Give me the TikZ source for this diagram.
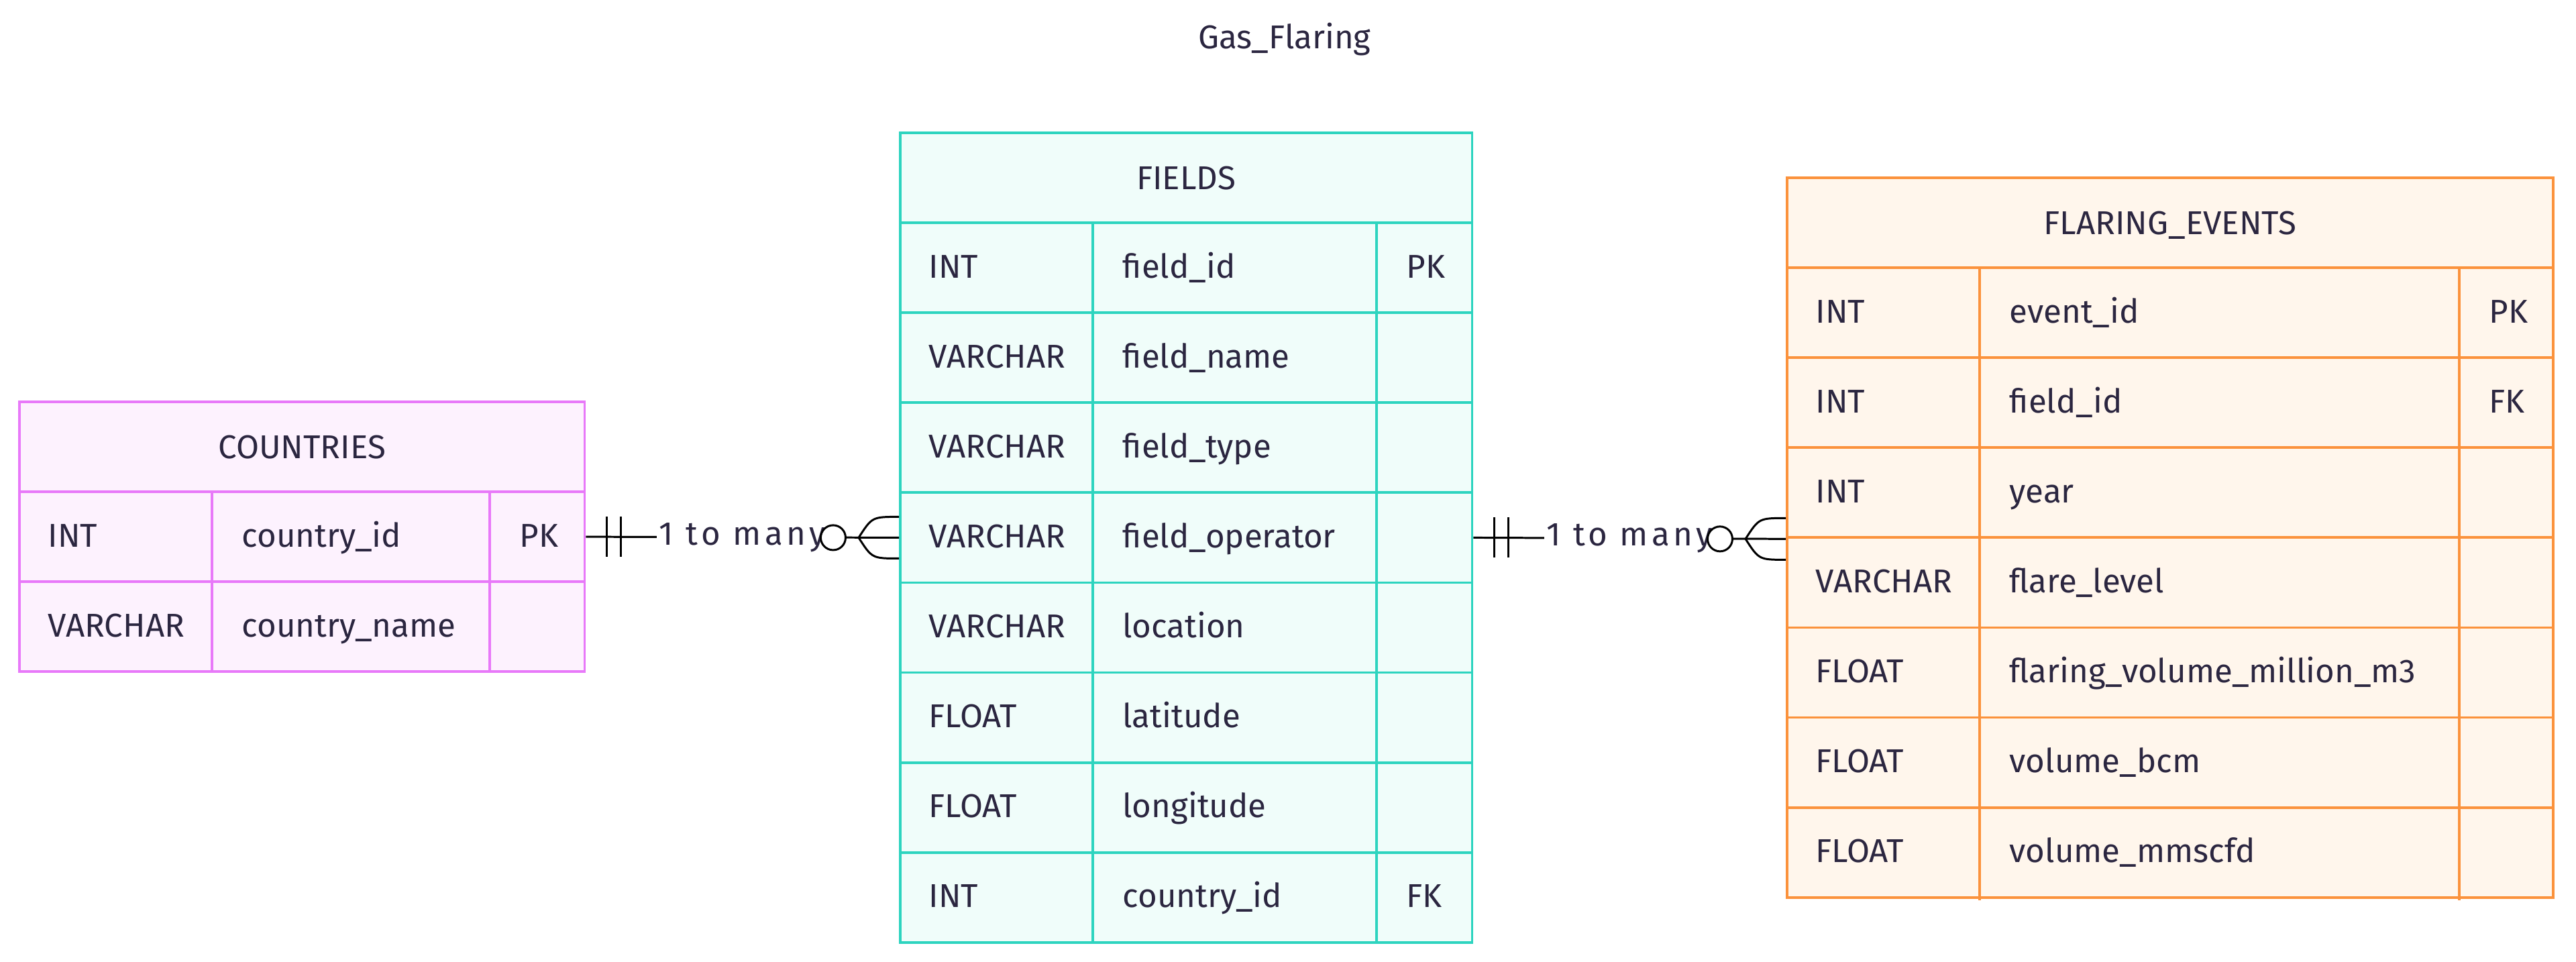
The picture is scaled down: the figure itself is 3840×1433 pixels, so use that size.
\documentclass[tikz,border=0pt]{standalone}
\usepackage{fontspec}
\setmainfont{Fira Sans}
\definecolor{ink}{HTML}{2B2640}
\definecolor{pinkline}{HTML}{E879F9}
\definecolor{pinkfill}{HTML}{FDF2FE}
\definecolor{tealline}{HTML}{2DD4BF}
\definecolor{tealfill}{HTML}{F0FDFA}
\definecolor{orangeline}{HTML}{FB923C}
\definecolor{orangefill}{HTML}{FFF6EC}
\begin{document}
\begin{tikzpicture}[x=0.01cm,y=-0.01cm,font=\fontsize{14}{17}\selectfont,text=ink,
  row/.style={draw=#1,line width=1.1pt,minimum height=1.341cm,inner sep=0pt,anchor=north west},
  cell/.style={anchor=base west,inner sep=0pt},
  head/.style={anchor=base,inner sep=0pt},
  rel/.style={draw=black,line width=0.85pt},
  card/.style={fill=white,inner sep=1pt,font=\fontsize{14}{17}\selectfont\addfontfeature{LetterSpace=11}}]
\fill[white](0,0) rectangle (3840,1433);
\useasboundingbox (0,0) rectangle (3840,1433);
\node[head] (title) at (1915,72) {Gas\_Flaring};
% COUNTRIES
\node[row=pinkline,fill=pinkfill,minimum width=8.42cm] (co-0) at (27,597) {};
\node[head] at ([yshift=-0.17cm]co-0.center) {COUNTRIES};
\foreach \t/\n/\k [count=\i] in {INT/country\_id/PK,VARCHAR/country\_name/{}}{
  \node[row=pinkline,fill=pinkfill,minimum width=8.42cm] (co-\i) at (27,{597+134.1*\i}) {};
  \node[cell] at (71,{597+134.1*\i+84}) {\t};
  \node[cell] at (360,{597+134.1*\i+84}) {\n};
  \node[cell] at (774,{597+134.1*\i+84}) {\k};
}
\draw[pinkline,line width=1.1pt] (316,731.1)--(316,999.3) (730,731.1)--(730,999.3);
% FIELDS
\node[row=tealline,fill=tealfill,minimum width=8.52cm] (fd-0) at (1340,196) {};
\node[head] at ([yshift=-0.17cm]fd-0.center) {FIELDS};
\foreach \t/\n/\k [count=\i] in {INT/field\_id/PK,VARCHAR/field\_name/{},VARCHAR/field\_type/{},
  VARCHAR/field\_operator/{},VARCHAR/location/{},FLOAT/latitude/{},FLOAT/longitude/{},INT/country\_id/FK}{
  \node[row=tealline,fill=tealfill,minimum width=8.52cm] (fd-\i) at (1340,{196+134.1*\i}) {};
  \node[cell] at (1384,{196+134.1*\i+84}) {\t};
  \node[cell] at (1673,{196+134.1*\i+84}) {\n};
  \node[cell] at (2096,{196+134.1*\i+84}) {\k};
}
\draw[tealline,line width=1.1pt] (1629,330.1)--(1629,1402.9) (2052,330.1)--(2052,1402.9);
% FLARING_EVENTS
\node[row=orangeline,fill=orangefill,minimum width=11.41cm] (ev-0) at (2662,263) {};
\node[head] at ([yshift=-0.17cm]ev-0.center) {FLARING\_EVENTS};
\foreach \t/\n/\k [count=\i] in {INT/event\_id/PK,INT/field\_id/FK,INT/year/{},VARCHAR/flare\_level/{},
  FLOAT/flaring\_volume\_million\_m3/{},FLOAT/volume\_bcm/{},FLOAT/volume\_mmscfd/{}}{
  \node[row=orangeline,fill=orangefill,minimum width=11.41cm] (ev-\i) at (2662,{263+134.1*\i}) {};
  \node[cell] at (2706,{263+134.1*\i+84}) {\t};
  \node[cell] at (2995,{263+134.1*\i+84}) {\n};
  \node[cell] at (3710,{263+134.1*\i+84}) {\k};
}
\draw[orangeline,line width=1.1pt] (2951,397.1)--(2951,1341.7) (3666,397.1)--(3666,1341.7);
% relations
\draw[rel] (co-1.east) -- node[card]{1 to many} (fd-4.west);
\draw[rel] ([xshift=0.31cm,yshift=0.3cm]co-1.east) -- ([xshift=0.31cm,yshift=-0.3cm]co-1.east);
\draw[rel] ([xshift=0.52cm,yshift=0.3cm]co-1.east) -- ([xshift=0.52cm,yshift=-0.3cm]co-1.east);
\draw[rel,fill=white] ([xshift=-0.98cm]fd-4.west) circle[radius=0.185cm];
\draw[rel] ([xshift=-0.6cm]fd-4.west) .. controls ([xshift=-0.4cm,yshift=0.31cm]fd-4.west) .. ([yshift=0.31cm]fd-4.west);
\draw[rel] ([xshift=-0.6cm]fd-4.west) .. controls ([xshift=-0.4cm,yshift=-0.31cm]fd-4.west) .. ([yshift=-0.31cm]fd-4.west);
\draw[rel] (fd-4.east) -- node[card]{1 to many} (ev-3.south west);
\draw[rel] ([xshift=0.31cm,yshift=0.3cm]fd-4.east) -- ([xshift=0.31cm,yshift=-0.3cm]fd-4.east);
\draw[rel] ([xshift=0.52cm,yshift=0.3cm]fd-4.east) -- ([xshift=0.52cm,yshift=-0.3cm]fd-4.east);
\draw[rel,fill=white] ([xshift=-0.98cm]ev-3.south west) circle[radius=0.185cm];
\draw[rel] ([xshift=-0.6cm]ev-3.south west) .. controls ([xshift=-0.4cm,yshift=0.31cm]ev-3.south west) .. ([yshift=0.31cm]ev-3.south west);
\draw[rel] ([xshift=-0.6cm]ev-3.south west) .. controls ([xshift=-0.4cm,yshift=-0.31cm]ev-3.south west) .. ([yshift=-0.31cm]ev-3.south west);
\end{tikzpicture}
\end{document}
